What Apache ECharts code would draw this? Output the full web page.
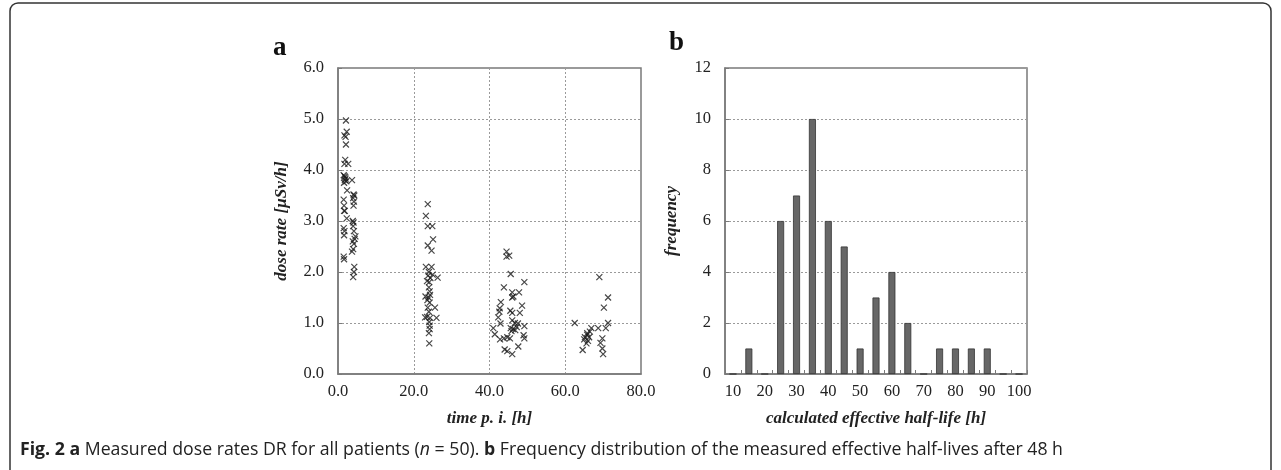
<!DOCTYPE html>
<html>
<head>
<meta charset="utf-8">
<script src="https://cdn.jsdelivr.net/npm/echarts@6/dist/echarts.min.js"></script>
<style>
html,body{margin:0;padding:0;background:#fff;}
#chart{width:1281px;height:470px;}
</style>
</head>
<body>
<div id="chart"></div>
<script>
// ---- Panel a: dose rate [µSv/h] vs time p.i. [h] ----
var doseCluster1 = [[2.1,4.97],[2.3,4.75],[1.7,4.68],[2.0,4.65],[2.1,4.5],[1.9,4.2],[1.7,4.12],[2.7,4.12],[1.5,3.9],[1.7,3.88],[1.9,3.86],[2.0,3.83],[1.8,3.8],[2.2,3.78],[3.7,3.8],[1.6,3.75],[2.4,3.6],[1.5,3.42],[1.6,3.3],[4.1,3.52],[4.3,3.5],[4.0,3.45],[4.2,3.38],[4.1,3.3],[1.6,3.2],[1.8,3.2],[2.3,3.05],[3.9,3.0],[4.1,2.97],[1.5,2.86],[1.7,2.8],[1.6,2.72],[4.0,2.9],[4.2,2.8],[4.6,2.7],[4.4,2.65],[3.9,2.6],[4.2,2.55],[4.0,2.45],[3.7,2.4],[1.5,2.3],[1.6,2.25],[4.3,2.1],[4.2,2.0],[4.0,1.9]];
var doseCluster2 = [[23.7,3.33],[23.2,3.1],[23.7,2.9],[24.9,2.9],[25.1,2.64],[23.7,2.52],[24.7,2.42],[23.2,2.1],[24.7,2.1],[24.0,2.0],[23.8,1.93],[24.4,1.88],[23.5,1.82],[24.1,1.8],[26.3,1.89],[25.0,1.95],[24.0,1.7],[24.2,1.62],[23.1,1.52],[23.9,1.5],[24.3,1.55],[23.6,1.45],[24.2,1.4],[25.6,1.3],[23.7,1.3],[24.0,1.22],[23.0,1.11],[23.5,1.12],[24.3,1.1],[26.0,1.1],[24.1,1.02],[24.2,0.95],[24.2,0.88],[24.0,0.8],[24.1,0.6]];
var doseCluster3 = [[44.5,2.4],[44.5,2.3],[45.2,2.32],[45.6,1.96],[49.2,1.8],[43.8,1.7],[46.0,1.6],[47.8,1.6],[46.0,1.5],[46.3,1.52],[43.0,1.41],[48.6,1.34],[42.7,1.29],[42.6,1.22],[45.5,1.24],[46.0,1.2],[48.0,1.2],[42.3,1.11],[46.0,1.05],[46.7,1.0],[47.5,0.99],[42.9,0.99],[49.2,0.94],[41.0,0.9],[45.6,0.9],[46.2,0.88],[46.8,0.86],[45.8,0.84],[47.2,0.92],[41.4,0.78],[49.0,0.76],[49.2,0.7],[45.4,0.7],[43.8,0.7],[44.7,0.72],[42.8,0.68],[47.6,0.54],[44.0,0.48],[44.7,0.45],[46.0,0.39]];
var doseCluster4 = [[69.0,1.9],[71.3,1.5],[70.2,1.3],[62.5,1.0],[71.3,1.0],[70.7,0.9],[68.7,0.9],[66.9,0.9],[66.5,0.83],[65.8,0.8],[65.8,0.77],[65.2,0.72],[66.3,0.72],[65.0,0.68],[65.6,0.6],[69.8,0.7],[69.3,0.61],[69.8,0.5],[70.0,0.39],[64.6,0.47],[66.0,0.65]];

// ---- Panel b: frequency of calculated effective half-life [h] ----
var halfLifeBins = ['10','15','20','25','30','35','40','45','50','55','60','65','70','75','80','85','90','95','100'];
var halfLifeFreq = [0,1,0,6,7,10,6,5,1,3,4,2,0,1,1,1,1,0,0];

var allDose = doseCluster1.concat(doseCluster2, doseCluster3, doseCluster4);

var serif = '"Liberation Serif", "Times New Roman", serif';
var sans = '"Open Sans", "Noto Sans", sans-serif';
var axisCol = '#7a7a7a';
var txtCol = '#222';
var gridLine = {show:true, lineStyle:{color:'#9a9a9a', type:[2,2], width:1}};
var nameStyle = {fontFamily:serif, fontStyle:'italic', fontWeight:'bold', fontSize:17, color:txtCol};
var labStyle = {fontFamily:serif, fontSize:16.5, color:txtCol};

var chart = echarts.init(document.getElementById('chart'), null, {renderer:'canvas'});
chart.setOption({
  backgroundColor:'#fff',
  animation:false,
  grid:[
    {left:338, top:68, width:303, height:306, show:true, borderColor:axisCol, borderWidth:1.5, backgroundColor:'transparent'},
    {left:725, top:68, width:302, height:306, show:true, borderColor:axisCol, borderWidth:1.5, backgroundColor:'transparent'}
  ],
  xAxis:[
    {gridIndex:0, type:'value', min:0, max:80, interval:20,
     name:'time p. i. [h]', nameLocation:'middle', nameGap:36, nameMoveOverlap:false, nameTextStyle:nameStyle,
     axisLine:{lineStyle:{color:axisCol, width:1.5}}, axisTick:{show:false},
     axisLabel:Object.assign({margin:9, formatter:function(v){return v.toFixed(1);}}, labStyle),
     splitLine:gridLine},
    {gridIndex:1, type:'category', data:halfLifeBins,
     name:'calculated effective half-life [h]', nameLocation:'middle', nameGap:36, nameMoveOverlap:false, nameTextStyle:nameStyle,
     axisLine:{lineStyle:{color:axisCol, width:1.5}},
     axisTick:{show:true, inside:true, length:4, interval:0, lineStyle:{color:axisCol}},
     axisLabel:Object.assign({margin:9, interval:1}, labStyle),
     splitLine:{show:false}}
  ],
  yAxis:[
    {gridIndex:0, type:'value', min:0, max:6, interval:1,
     name:'dose rate [µSv/h]', nameLocation:'middle', nameGap:48, nameMoveOverlap:false, nameRotate:90, nameTextStyle:nameStyle,
     axisLine:{show:true, lineStyle:{color:axisCol, width:1.5}},
     axisTick:{show:true, inside:true, length:4, lineStyle:{color:axisCol}},
     axisLabel:Object.assign({margin:14, formatter:function(v){return v.toFixed(1);}}, labStyle),
     splitLine:gridLine},
    {gridIndex:1, type:'value', min:0, max:12, interval:2,
     name:'frequency', nameLocation:'middle', nameGap:45, nameMoveOverlap:false, nameRotate:90, nameTextStyle:nameStyle,
     axisLine:{show:true, lineStyle:{color:axisCol, width:1.5}},
     axisTick:{show:true, inside:true, length:4, lineStyle:{color:axisCol}},
     axisLabel:Object.assign({margin:14}, labStyle),
     splitLine:gridLine}
  ],
  series:[
    {type:'scatter', xAxisIndex:0, yAxisIndex:0, data:allDose,
     symbol:'path://M0,0L10,10M10,0L0,10', symbolSize:6,
     itemStyle:{color:'rgba(0,0,0,0)', borderColor:'#1a1a1a', borderWidth:1.2}},
    {type:'bar', xAxisIndex:1, yAxisIndex:1, data:halfLifeFreq, barWidth:7,
     itemStyle:{color:'#676767', borderColor:'#333', borderWidth:0.8}}
  ],
  graphic:[
    {type:'rect', shape:{x:10, y:3, width:1261, height:520, r:8}, style:{fill:'none', stroke:'#333', lineWidth:1.5}, silent:true},
    {type:'text', left:273, top:35, style:{text:'a', font:'bold 27px "Liberation Serif", serif', fill:'#111'}},
    {type:'text', left:669, top:30, style:{text:'b', font:'bold 27px "Liberation Serif", serif', fill:'#111'}},
    {type:'text', left:20, top:441, style:{
      text:'{b|Fig. 2 a} Measured dose rates DR for all patients ({i|n} = 50). {b|b} Frequency distribution of the measured effective half-lives after 48 h',
      fontFamily:sans, fontSize:17.7, fill:'#222',
      rich:{b:{fontWeight:'bold', fontFamily:sans, fontSize:17.7}, i:{fontStyle:'italic', fontFamily:sans, fontSize:17.7}}
    }}
  ]
});
</script>
</body>
</html>
